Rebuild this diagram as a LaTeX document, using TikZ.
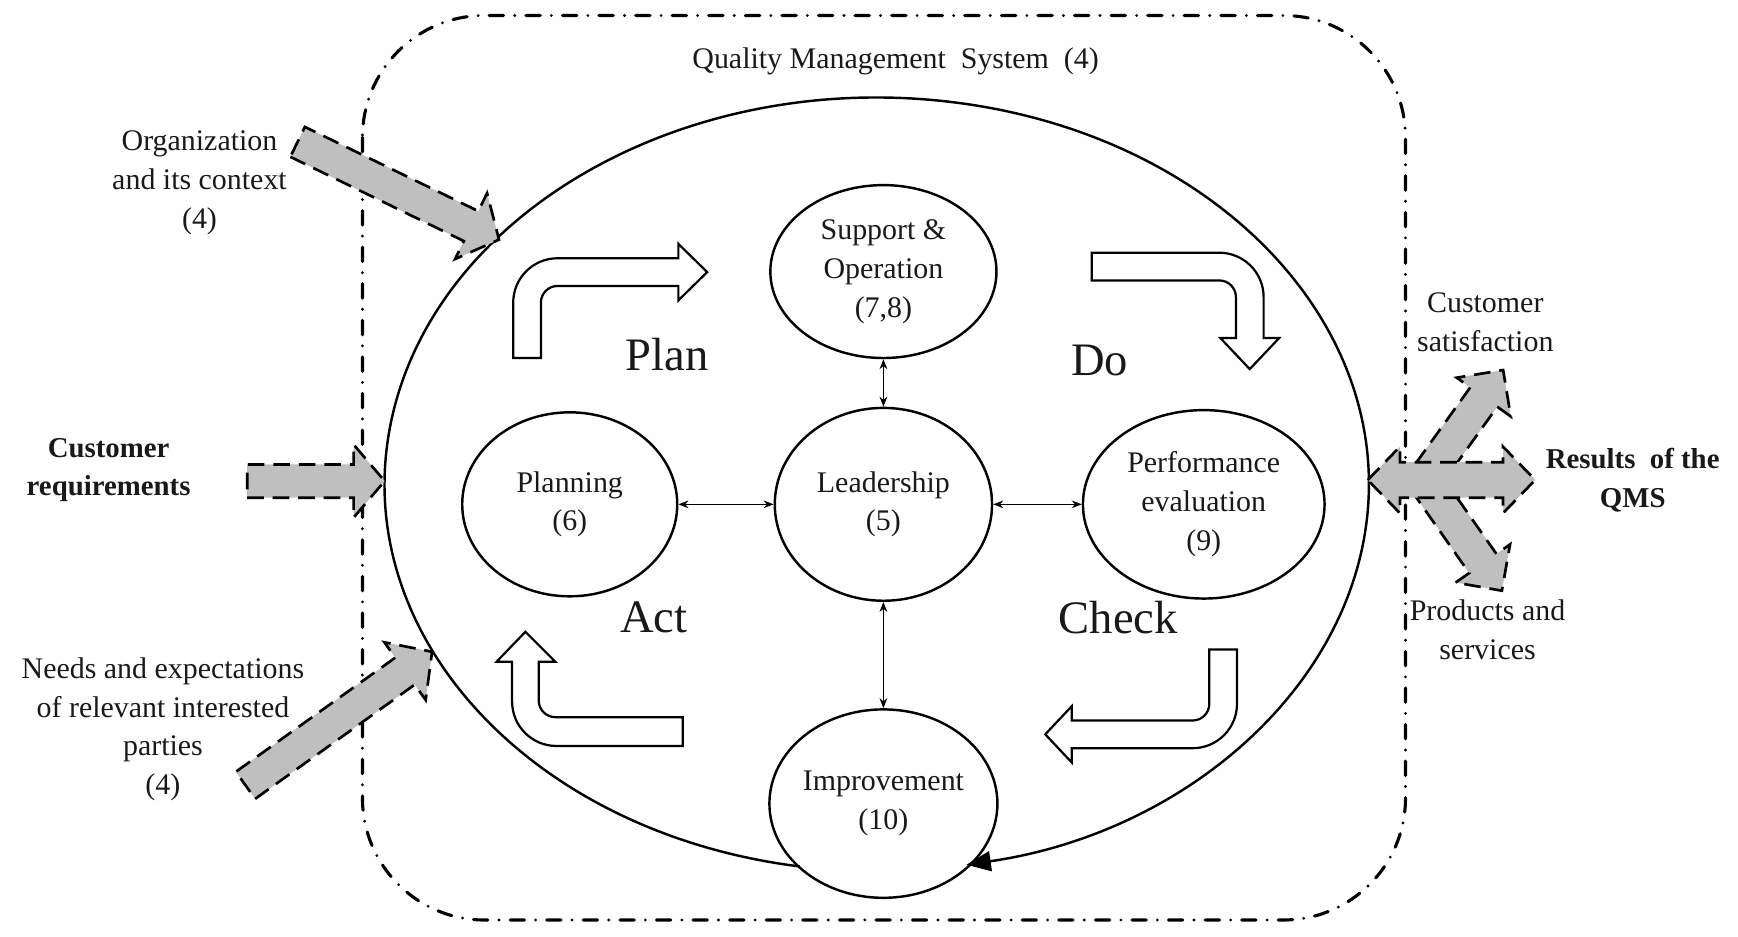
\documentclass[tikz,border=0pt]{standalone}
\usepackage{fontspec}
\IfFontExistsTF{LiberationSerif-Regular.ttf}
  {\setmainfont{LiberationSerif}[Extension=.ttf, UprightFont=*-Regular, BoldFont=*-Bold, ItalicFont=*-Italic, BoldItalicFont=*-BoldItalic]}
  {\setmainfont{Liberation Serif}}
\usetikzlibrary{arrows.meta,shapes.geometric}
\begin{document}
\begin{tikzpicture}[x=1pt,y=1pt,
  txt/.style={font=\fontsize{27}{35}\selectfont, align=center, inner sep=0pt, text=black!90},
  btxt/.style={font=\fontsize{26}{35}\selectfont\bfseries, align=center, inner sep=0pt, text=black!90},
  big/.style={font=\fontsize{42}{48}\selectfont, inner sep=0pt, text=black!90},
  proc/.style={ellipse, draw, line width=2.2pt, inner sep=0pt, font=\fontsize{27}{35}\selectfont, align=center, text=black!90},
  conn/.style={line width=1pt, {Stealth[length=9pt,width=7pt]}-{Stealth[length=9pt,width=7pt]}},
  hollow/.style={draw, line width=2pt, fill=white, line join=miter},
  grayarr/.style={draw, fill=gray!50, line width=2.4pt, dash pattern=on 15pt off 8pt},
  qms/.style={line width=2.8pt, line cap=round, dash pattern=on 13pt off 10pt on 0pt off 10pt, rounded corners=110pt}
]
\useasboundingbox (0,0) rectangle (1568,-845);

% QMS boundary
\draw[qms] (327,-14) rectangle (1268,-830);
\node[txt] (qmstitle) at (808,-55) {Quality Management\ \ System\ \ (4)};

% big PDCA cycle
\draw[line width=2.2pt, -{Triangle[length=22pt,width=18pt]}] (721.5,-781.7) arc[start angle=261, end angle=-79.5, x radius=444, y radius=349];

% input arrows
\begin{scope}[shift={(268.5,-128)}, rotate=-25.9]
\draw[grayarr] (0,-15) -- (174,-15) -- (174,-33) -- (202,0) -- (174,33) -- (174,15) -- (0,15) -- cycle;
\end{scope}
\begin{scope}[shift={(223,-434)}]
\draw[grayarr] (0,-15) -- (96,-15) -- (96,-33) -- (124,0) -- (96,33) -- (96,15) -- (0,15) -- cycle;
\end{scope}
\begin{scope}[shift={(221.5,-708.5)}, rotate=35.6]
\draw[grayarr] (0,-15) -- (177,-15) -- (177,-32) -- (207,0) -- (177,32) -- (177,15) -- (0,15) -- cycle;
\end{scope}

% output arrows
\begin{scope}[shift={(1285,-433)}, rotate=54.35]
\draw[grayarr] (0,-15) -- (92,-15) -- (92,-30) -- (122,0) -- (92,30) -- (92,15) -- (0,15) -- cycle;
\end{scope}
\begin{scope}[shift={(1285,-433)}, rotate=-55]
\draw[grayarr] (0,-15) -- (92,-15) -- (92,-30) -- (122,0) -- (92,30) -- (92,15) -- (0,15) -- cycle;
\end{scope}
\draw[grayarr] (1234,-433) -- (1263,-403) -- (1263,-417) -- (1356,-417) -- (1356,-403) -- (1385,-433) -- (1356,-463) -- (1356,-449) -- (1263,-449) -- (1263,-463) -- cycle;

% hollow PDCA arrows
% Plan
\draw[hollow] (463,-323) -- (463,-273) arc[start angle=180, end angle=90, radius=40] -- (612,-233) -- (612,-220) -- (638,-245.5) -- (612,-271) -- (612,-258) -- (503,-258) arc[start angle=90, end angle=180, radius=15] -- (488,-323) -- cycle;
% Do
\draw[hollow] (985,-228) -- (1100,-228) arc[start angle=90, end angle=0, radius=40] -- (1140,-305) -- (1154,-305) -- (1127.5,-333) -- (1101,-305) -- (1115,-305) -- (1115,-268) arc[start angle=0, end angle=90, radius=15] -- (985,-253) -- cycle;
% Check
\draw[hollow] (1091,-586) -- (1116,-586) -- (1116,-635) arc[start angle=0, end angle=-90, radius=40] -- (967,-675) -- (967,-688) -- (943,-662.5) -- (967,-637) -- (967,-650) -- (1076,-650) arc[start angle=270, end angle=360, radius=15] -- cycle;
% Act
\draw[hollow] (616,-647) -- (501,-647) arc[start angle=270, end angle=180, radius=15] -- (486,-597) -- (501,-597) -- (474,-570) -- (448,-597) -- (462,-597) -- (462,-633) arc[start angle=180, end angle=270, radius=40] -- (616,-673) -- cycle;

% process nodes
\node[proc, minimum width=204pt, minimum height=156pt] (supp) at (797,-245) {Support \&\\Operation\\(7,8)};
\node[proc, minimum width=194pt, minimum height=166pt] (plan) at (514,-455) {Planning\\(6)};
\node[proc, minimum width=196pt, minimum height=174pt] (lead) at (797,-455) {Leadership\\(5)};
\node[proc, minimum width=218pt, minimum height=170pt] (perf) at (1086,-455) {Performance\\evaluation\\(9)};
\node[proc, minimum width=196pt, minimum height=170pt] (impr) at (797,-725) {Improvement\\(10)};

\draw[conn] (plan) -- (lead);
\draw[conn] (lead) -- (perf);
\draw[conn] (supp) -- (lead);
\draw[conn] (lead) -- (impr);

% PDCA labels
\node[big] (lplan) at (602,-320) {Plan};
\node[big] (ldo) at (992,-325) {Do};
\node[big] (lact) at (590,-557) {Act};
\node[big] (lcheck) at (1009,-557) {Check};

% outer labels
\node[txt] (org) at (180,-165) {Organization\\and its context\\(4)};
\node[btxt] (custreq) at (98,-424) {Customer\\requirements};
\node[txt] (needs) at (147,-658) {Needs and expectations\\of relevant interested\\parties\\(4)};
\node[txt] (custsat) at (1340,-291) {Customer\\satisfaction};
\node[btxt] (results) at (1473,-433) {Results\ \ of the\\QMS};
\node[txt] (prod) at (1342,-568) {Products and\\services};
\end{tikzpicture}
\end{document}
